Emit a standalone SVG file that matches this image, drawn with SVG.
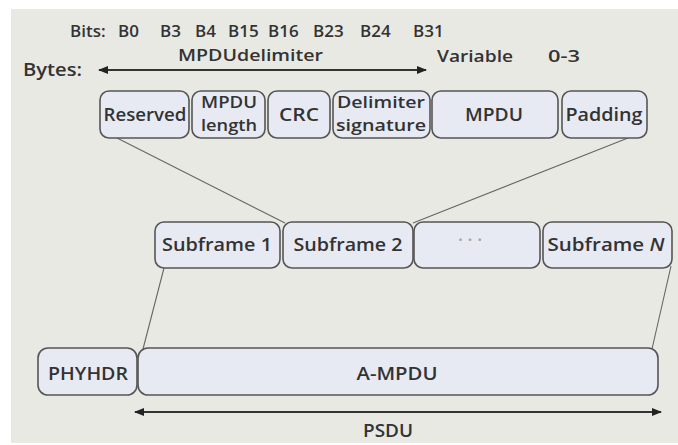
<svg xmlns="http://www.w3.org/2000/svg" width="678" height="445" viewBox="0 0 678 445">
<defs>
<style>
.box{fill:#e8eaf3;stroke:#555;stroke-width:1.6}
.t{font-family:"Open Sans","Liberation Sans",sans-serif;font-weight:600;font-size:18px;fill:#333}
.m{text-anchor:middle}
.s{font-size:16px}
.b{font-size:17px}
.ln{stroke:#666;stroke-width:1.1;fill:none}
.ar{stroke:#333;stroke-width:1.8;fill:none}
</style>
<marker id="ah" viewBox="0 0 10 8" refX="9" refY="4" markerWidth="10" markerHeight="8" markerUnits="userSpaceOnUse" orient="auto-start-reverse">
<path d="M0,0 L10,4 L0,8 Z" fill="#222"/>
</marker>
</defs>
<rect x="0" y="0" width="678" height="445" fill="#ffffff"/>
<rect x="11" y="9" width="667" height="434" fill="#e9e9e4"/>

<g id="labels">
<text class="t b" y="37"><tspan x="70">Bits:</tspan><tspan x="118">B0</tspan><tspan x="160">B3</tspan><tspan x="195">B4</tspan><tspan x="228">B15</tspan><tspan x="268">B16</tspan><tspan x="313">B23</tspan><tspan x="360">B24</tspan><tspan x="413">B31</tspan></text>
<text class="t b" x="178" y="61" textLength="145" lengthAdjust="spacingAndGlyphs">MPDUdelimiter</text>
<text class="t" x="23" y="76" textLength="59" lengthAdjust="spacingAndGlyphs">Bytes:</text>
<text class="t b" x="437" y="62" textLength="76" lengthAdjust="spacingAndGlyphs">Variable</text>
<text class="t b" x="548" y="62" textLength="32" lengthAdjust="spacingAndGlyphs">0-3</text>
<text class="t m" x="388" y="437" textLength="50" lengthAdjust="spacingAndGlyphs">PSDU</text>
</g>

<g id="connectors">
<line class="ar" x1="99" y1="70" x2="426" y2="70" marker-start="url(#ah)" marker-end="url(#ah)"/>
<line class="ar" x1="135" y1="412" x2="661" y2="412" marker-start="url(#ah)" marker-end="url(#ah)"/>
<line class="ln" x1="117" y1="138" x2="285" y2="223"/>
<line class="ln" x1="628" y1="138" x2="413" y2="223"/>
<line class="ln" x1="164" y1="268" x2="143" y2="349"/>
<line class="ln" x1="671" y1="266" x2="652" y2="349"/>
</g>

<g id="reserved"><rect class="box" x="100" y="91" width="89" height="47" rx="9"/><text class="t m" x="145" y="121" textLength="83" lengthAdjust="spacingAndGlyphs">Reserved</text></g>
<g id="mpdu-length"><rect class="box" x="192" y="91" width="73" height="47" rx="9"/><text class="t m s" x="229" y="108" textLength="56" lengthAdjust="spacingAndGlyphs">MPDU</text><text class="t m s" x="229" y="131" textLength="56" lengthAdjust="spacingAndGlyphs">length</text></g>
<g id="crc"><rect class="box" x="268" y="91" width="62" height="47" rx="9"/><text class="t m" x="299" y="121" textLength="40" lengthAdjust="spacingAndGlyphs">CRC</text></g>
<g id="delimiter-signature"><rect class="box" x="333" y="91" width="97" height="47" rx="9"/><text class="t m s" x="381" y="108" textLength="88" lengthAdjust="spacingAndGlyphs">Delimiter</text><text class="t m s" x="381" y="131" textLength="90" lengthAdjust="spacingAndGlyphs">signature</text></g>
<g id="mpdu"><rect class="box" x="432" y="91" width="126" height="47" rx="9"/><text class="t m" x="494" y="121" textLength="58" lengthAdjust="spacingAndGlyphs">MPDU</text></g>
<g id="padding"><rect class="box" x="562" y="91" width="85" height="47" rx="9"/><text class="t m" x="604" y="121" textLength="77" lengthAdjust="spacingAndGlyphs">Padding</text></g>

<g id="subframe1"><rect class="box" x="155" y="222" width="125" height="46" rx="9"/><text class="t m" x="217" y="251" textLength="110" lengthAdjust="spacingAndGlyphs">Subframe 1</text></g>
<g id="subframe2"><rect class="box" x="283" y="222" width="130" height="46" rx="9"/><text class="t m" x="348" y="251" textLength="109" lengthAdjust="spacingAndGlyphs">Subframe 2</text></g>
<g id="dots"><rect class="box" x="414" y="222" width="126" height="46" rx="9"/><text class="t m" x="470" y="246" style="fill:#a5a5a5">· · ·</text></g>
<g id="subframeN"><rect class="box" x="543" y="222" width="129" height="46" rx="9"/><text class="t m" x="606" y="251" textLength="117" lengthAdjust="spacingAndGlyphs">Subframe <tspan font-style="italic">N</tspan></text></g>

<g id="phyhdr"><rect class="box" x="38" y="348" width="99" height="47" rx="10"/><text class="t m" x="88" y="380" textLength="80" lengthAdjust="spacingAndGlyphs">PHYHDR</text></g>
<g id="a-mpdu"><rect class="box" x="138" y="348" width="520" height="47" rx="10"/><text class="t m" x="397" y="380" textLength="81" lengthAdjust="spacingAndGlyphs">A-MPDU</text></g>
</svg>
